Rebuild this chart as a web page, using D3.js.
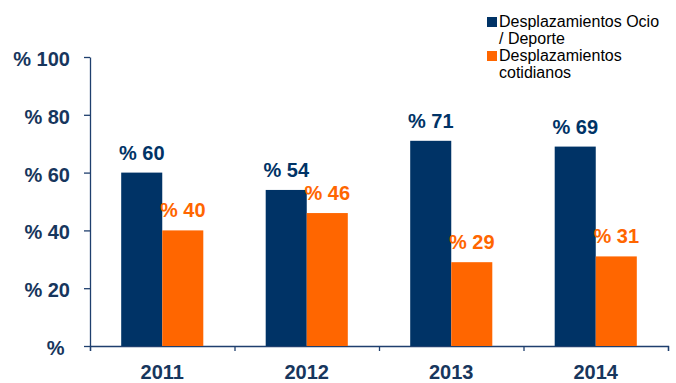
<!DOCTYPE html>
<html>
<head>
<meta charset="utf-8">
<script src="https://cdn.jsdelivr.net/npm/d3@7"></script>
<style>
  body { margin: 0; background: #fff; }
  svg { display: block; font-family: "Liberation Sans", Arial, sans-serif; }
  .axis path, .axis line { stroke: #1f3f6e; stroke-width: 1.3; }
  .axis text { fill: #17365d; font-size: 20px; font-weight: bold; }
</style>
</head>
<body>
<div class="chart"></div>
<script>
const years = ['2011', '2012', '2013', '2014'];
const seriesNames = ['Desplazamientos Ocio / Deporte', 'Desplazamientos cotidianos'];
const ocio = [60, 54, 71, 69];
const cotidianos = [40, 46, 29, 31];
const yTicks = [0, 20, 40, 60, 80, 100];

const colors = ['#003366', '#ff6600'];

const svg = d3.select('.chart').append('svg'),
  margin = { top: 57, right: 8, bottom: 37, left: 90 },
  width = 676 - margin.left - margin.right,
  height = 383 - margin.top - margin.bottom;

svg.attr('width', 676).attr('height', 383);

const g = svg.append('g')
  .attr('transform', 'translate(' + margin.left + ',' + margin.top + ')');

const x0 = d3.scaleBand().domain(years).range([0, width]).padding(0);
const x1 = d3.scaleBand().domain([0, 1]).range([0, x0.bandwidth()]).paddingInner(0).paddingOuter(0.76);
const y = d3.scaleLinear().domain([0, 100]).range([height, 0]);

const data = years.map(function(yr, i) {
  return { year: yr, values: [ocio[i], cotidianos[i]] };
});

// y axis
g.append('g')
  .attr('class', 'axis')
  .call(d3.axisLeft(y).tickValues(yTicks).tickSize(6).tickSizeOuter(0).tickPadding(14)
    .tickFormat(function(d) { return d === 0 ? '%\u00a0' : '% ' + d; }))
  .call(function(s) { s.selectAll('text').attr('dy', '0.42em'); });

// x axis: boundary ticks
const xb = d3.scaleLinear().domain([0, years.length]).range([0, width]);
g.append('g')
  .attr('class', 'axis')
  .attr('transform', 'translate(0,' + height + ')')
  .call(d3.axisBottom(xb).ticks(years.length).tickSize(5).tickSizeOuter(5).tickFormat(''));

// x axis: labels
g.append('g')
  .attr('class', 'axis')
  .attr('transform', 'translate(0,' + height + ')')
  .call(d3.axisBottom(x0).tickSize(0).tickPadding(19))
  .call(function(s) { s.select('.domain').remove(); });

// bars
const groups = g.selectAll('.group')
  .data(data)
  .enter().append('g')
  .attr('class', 'group')
  .attr('transform', function(d) { return 'translate(' + x0(d.year) + ',0)'; });

groups.selectAll('rect')
  .data(function(d) { return d.values; })
  .enter().append('rect')
  .attr('x', function(d, i) { return x1(i); })
  .attr('y', function(d) { return y(d); })
  .attr('width', x1.bandwidth())
  .attr('height', function(d) { return height - y(d); })
  .attr('fill', function(d, i) { return colors[i]; });

groups.selectAll('.label')
  .data(function(d) { return d.values; })
  .enter().append('text')
  .attr('class', 'label')
  .attr('x', function(d, i) { return x1(i) + x1.bandwidth() / 2; })
  .attr('y', function(d) { return y(d) - 13; })
  .attr('text-anchor', 'middle')
  .attr('font-size', 20)
  .attr('font-weight', 'bold')
  .attr('fill', function(d, i) { return colors[i]; })
  .text(function(d) { return '% ' + d; });

// legend
const legendLines = [['Desplazamientos Ocio', '/ Deporte'], ['Desplazamientos', 'cotidianos']];
const legend = svg.append('g').attr('transform', 'translate(487,17)');
legendLines.forEach(function(lines, i) {
  const item = legend.append('g').attr('transform', 'translate(0,' + (i * 34) + ')');
  item.append('rect').attr('width', 10).attr('height', 10).attr('fill', colors[i]);
  item.append('text')
    .attr('x', 12)
    .attr('y', 10)
    .attr('font-size', 16)
    .attr('fill', '#000')
    .selectAll('tspan')
    .data(lines)
    .enter().append('tspan')
    .attr('x', 12)
    .attr('dy', function(d, j) { return j === 0 ? 0 : 17; })
    .text(function(d) { return d; });
});
</script>
</body>
</html>
